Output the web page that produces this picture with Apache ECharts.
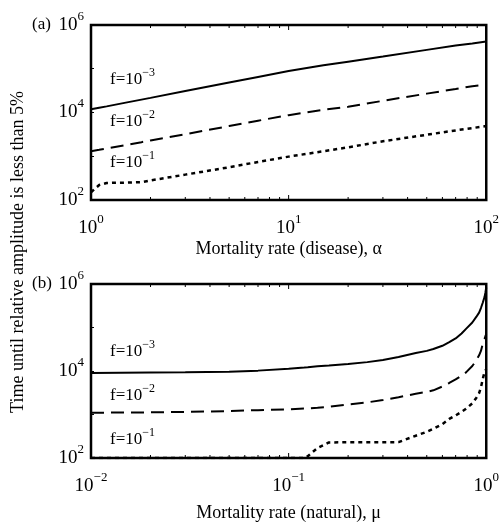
<!DOCTYPE html>
<html><head><meta charset="utf-8">
<script src="https://cdn.jsdelivr.net/npm/echarts@6/dist/echarts.min.js"></script>
<style>html,body{margin:0;padding:0;background:#fff}#c{width:502px;height:523px}</style>
</head><body><div id="c"></div>
<script>
// ---------- Panel (a): disease mortality alpha ----------
const alphaVals = [1, 1.1, 1.2, 1.5, 1.8, 2, 3, 5, 7, 10, 15, 20, 30, 50, 70, 85, 100];
const aF3 = [1.18e4, 1.28e4, 1.38e4, 1.68e4, 1.97e4, 2.16e4, 3.1e4, 4.85e4, 6.5e4, 8.9e4, 1.2e5, 1.45e5, 1.9e5, 2.7e5, 3.4e5, 3.8e5, 4.2e5];
const aF2 = [1.3e3, 1.4e3, 1.5e3, 1.8e3, 2.1e3, 2.3e3, 3.2e3, 4.9e3, 6.5e3, 8.7e3, 1.15e4, 1.35e4, 1.85e4, 2.7e4, 3.45e4, 4.0e4, 4.3e4];
const aF1 = [150, 220, 245, 250, 255, 280, 380, 560, 740, 980, 1300, 1600, 2200, 3100, 3900, 4400, 4900];

// ---------- Panel (b): natural mortality mu ----------
const muVals = [0.01, 0.02, 0.03, 0.05, 0.07, 0.1, 0.12, 0.125, 0.14, 0.16, 0.2, 0.25, 0.3, 0.36, 0.44, 0.5, 0.54, 0.6, 0.65, 0.7, 0.75, 0.79, 0.85, 0.89, 0.92, 0.94, 0.96, 0.98, 0.99, 1.0];
const bF3 = [9.0e3, 9.2e3, 9.3e3, 9.6e3, 1.02e4, 1.12e4, 1.2e4, 1.22e4, 1.28e4, 1.34e4, 1.45e4, 1.6e4, 1.8e4, 2.1e4, 2.6e4, 2.9e4, 3.2e4, 3.8e4, 4.6e4, 5.6e4, 7.3e4, 9.3e4, 1.3e5, 1.75e5, 2.2e5, 2.8e5, 3.7e5, 5.0e5, 6.3e5, 8.3e5];
const bF2 = [1.1e3, 1.12e3, 1.15e3, 1.2e3, 1.26e3, 1.32e3, 1.37e3, 1.38e3, 1.43e3, 1.5e3, 1.7e3, 1.9e3, 2.15e3, 2.5e3, 3.0e3, 3.3e3, 3.6e3, 4.4e3, 5.3e3, 6.4e3, 7.8e3, 9.3e3, 1.3e4, 1.75e4, 2.3e4, 2.9e4, 4.2e4, 5.5e4, 6.3e4, 7.0e4];
const bF1 = [100, 100, 100, 100, 100, 100, 100, 110, 170, 228, 230, 230, 230, 232, 325, 400, 470, 600, 790, 950, 1150, 1350, 1800, 2400, 3100, 4200, 6500, 9500, 1.05e4, 1.1e4];

// ---------- Ticks & labels ----------
const xTicksA = [1, 10, 100];
const xTicksB = [0.01, 0.1, 1];
const yTicks = [1e2, 1e4, 1e6];
const xMinorA = [2, 3, 4, 5, 6, 7, 8, 9, 10, 20, 30, 40, 50, 60, 70, 80, 90];
const xMinorB = [0.02, 0.03, 0.04, 0.05, 0.06, 0.07, 0.08, 0.09, 0.1, 0.2, 0.3, 0.4, 0.5, 0.6, 0.7, 0.8, 0.9];
const curveLabels = ['f=10^−3', 'f=10^−2', 'f=10^−1'];
const panelTags = ['(a)', '(b)'];
const xTitles = ['Mortality rate (disease), α', 'Mortality rate (natural), μ'];
const yTitle = 'Time until relative amplitude is less than 5%';

const SERIF = 'Liberation Serif';
const tickRich = {
  b: {fontFamily: SERIF, fontSize: 19, lineHeight: 30, color: '#000'},
  s: {fontFamily: SERIF, fontSize: 13, lineHeight: 10, verticalAlign: 'top', color: '#000'}
};
const lblRich = {
  b: {fontFamily: SERIF, fontSize: 17, lineHeight: 26, color: '#000'},
  s: {fontFamily: SERIF, fontSize: 12, lineHeight: 9, verticalAlign: 'top', color: '#000'}
};
function expFmt(list) {
  return function (v) {
    const hit = list.some(t => Math.abs(Math.log10(t) - Math.log10(v)) < 1e-6);
    if (!hit) return '';
    const e = Math.round(Math.log10(v));
    return '{b|10}{s|' + (e < 0 ? '−' + (-e) : e) + '}';
  };
}
function richLabel(s) {
  const p = s.split('^');
  return '{b|' + p[0] + '}{s|' + p[1] + '}';
}

const grids = [
  {left: 91, top: 25, width: 396, height: 175},
  {left: 91, top: 284, width: 396, height: 174}
].map(g => Object.assign(g, {show: true, borderColor: '#000', borderWidth: 2.5, backgroundColor: 'transparent', containLabel: false}));

function xAxisDef(gi, min, max, ticks, title, gap) {
  return {
    type: 'log', logBase: 10, gridIndex: gi, min: min, max: max,
    axisLine: {show: false},
    axisTick: {show: false},
    splitLine: {show: false},
    axisLabel: {formatter: expFmt(ticks), rich: tickRich, margin: 13, showMinLabel: true, showMaxLabel: true},
    name: title, nameLocation: 'middle', nameGap: gap,
    nameTextStyle: {fontFamily: SERIF, fontSize: 18, color: '#000'}
  };
}
function yAxisDef(gi) {
  return {
    type: 'log', logBase: 10, gridIndex: gi, min: 1e2, max: 1e6,
    axisLine: {show: false},
    axisTick: {show: true, inside: true, length: 3, lineStyle: {color: '#000', width: 1}},
    splitLine: {show: false},
    axisLabel: {formatter: expFmt(yTicks), rich: tickRich, margin: 7, showMinLabel: true, showMaxLabel: true}
  };
}

function zip(xs, ys) { return xs.map((x, i) => [x, ys[i]]); }
function lineSeries(gi, xs, ys, type, w) {
  return {
    type: 'line', xAxisIndex: gi, yAxisIndex: gi, data: zip(xs, ys),
    showSymbol: false, symbol: 'none', smooth: false, silent: true, animation: false,
    lineStyle: {color: '#000', width: w, type: type}
  };
}
function tickSeries(gi, vals) {
  return {
    type: 'custom', xAxisIndex: gi, yAxisIndex: gi, silent: true, animation: false, clip: false,
    data: vals.map(v => [v, 1e2]),
    renderItem: function (params, api) {
      const v = api.value(0);
      const p = api.coord([v, 1e2]);
      const cs = params.coordSys;
      const major = Math.abs(Math.log10(v) - Math.round(Math.log10(v))) < 1e-6;
      const L = major ? 5 : 3;
      const st = {stroke: '#000', lineWidth: 1};
      return {type: 'group', children: [
        {type: 'line', shape: {x1: p[0], y1: cs.y + cs.height, x2: p[0], y2: cs.y + cs.height - L}, style: st},
        {type: 'line', shape: {x1: p[0], y1: cs.y, x2: p[0], y2: cs.y + L}, style: st}
      ]};
    }
  };
}

const labelYs = [[80, 122, 163], [352, 396, 440]];
const graphics = [];
labelYs.forEach(arr => arr.forEach((y, i) => {
  graphics.push({type: 'text', x: 110, y: y, silent: true,
    style: {text: richLabel(curveLabels[i]), rich: lblRich, align: 'left', verticalAlign: 'middle'}});
}));
graphics.push({type: 'text', x: 32, y: 25, style: {text: panelTags[0], fontFamily: SERIF, fontSize: 17, fill: '#000', align: 'left', verticalAlign: 'middle'}});
graphics.push({type: 'text', x: 32, y: 284, style: {text: panelTags[1], fontFamily: SERIF, fontSize: 17, fill: '#000', align: 'left', verticalAlign: 'middle'}});
graphics.push({type: 'text', x: 18, y: 252, rotation: Math.PI / 2,
  style: {text: yTitle, fontFamily: SERIF, fontSize: 18, fill: '#000', align: 'center', verticalAlign: 'middle'}});

const chart = echarts.init(document.getElementById('c'), null, {renderer: 'canvas'});
chart.setOption({
  backgroundColor: '#fff',
  animation: false,
  grid: grids,
  xAxis: [xAxisDef(0, 1, 100, xTicksA, xTitles[0], 40), xAxisDef(1, 0.01, 1, xTicksB, xTitles[1], 46)],
  yAxis: [yAxisDef(0), yAxisDef(1)],
  graphic: graphics,
  series: [
    lineSeries(0, alphaVals, aF3, 'solid', 2),
    lineSeries(0, alphaVals, aF2, [13, 7], 2),
    lineSeries(0, alphaVals, aF1, [4, 4], 2.5),
    lineSeries(1, muVals, bF3, 'solid', 2),
    lineSeries(1, muVals, bF2, [13, 7], 2),
    lineSeries(1, muVals, bF1, [4, 4], 2.5),
    tickSeries(0, xMinorA),
    tickSeries(1, xMinorB)
  ]
});
</script>
</body></html>
